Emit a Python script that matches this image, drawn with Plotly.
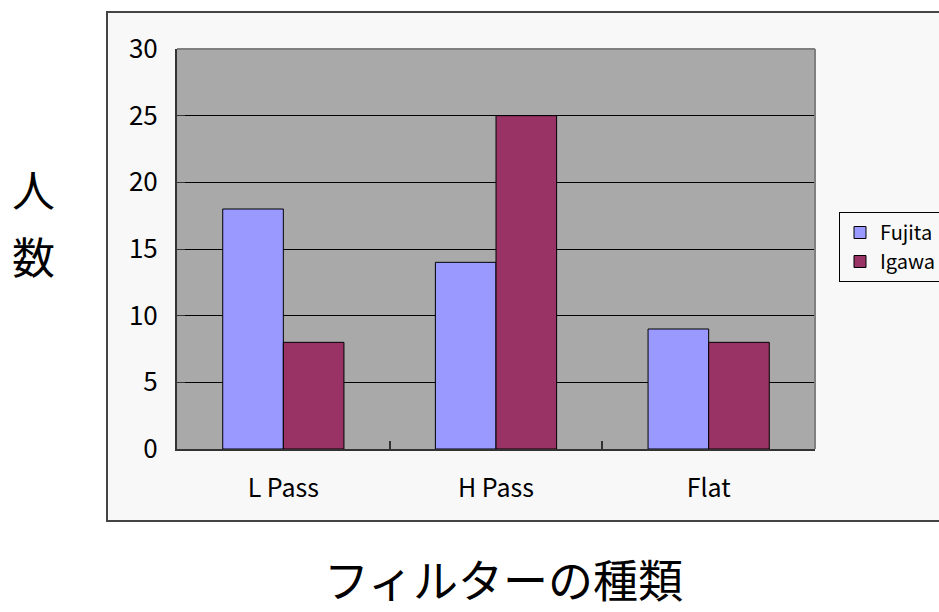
import plotly.graph_objects as go

categories = ["L Pass", "H Pass", "Flat"]
fujita = [18, 14, 9]
igawa = [8, 25, 8]
y_ticks = [0, 5, 10, 15, 20, 25, 30]

FONT = "Noto Sans CJK JP, Liberation Sans, sans-serif"

fig = go.Figure()
fig.add_trace(go.Bar(name="Fujita", x=categories, y=fujita,
                     marker=dict(color="#9999ff", line=dict(color="#000000", width=1))))
fig.add_trace(go.Bar(name="Igawa", x=categories, y=igawa,
                     marker=dict(color="#993366", line=dict(color="#000000", width=1))))

L, R, T, B = 177, 124, 49, 163
fig.update_layout(
    width=939, height=612,
    margin=dict(l=L, r=R, t=T, b=B, pad=0, autoexpand=False),
    paper_bgcolor="#ffffff",
    plot_bgcolor="#a9a9a9",
    barmode="group",
    bargap=0.43,
    bargroupgap=0,
    font=dict(family=FONT, color="#000000"),
    showlegend=True,
    legend=dict(x=(839 - L) / 638, y=(449 - 212) / 400, xanchor="left", yanchor="top",
                bgcolor="#f8f8f8", bordercolor="#000000", borderwidth=1,
                font=dict(size=20, family=FONT), tracegroupgap=0,
                itemwidth=30),
    xaxis=dict(showgrid=False, showline=True, linecolor="#333333", linewidth=2,
               ticks="inside", ticklen=8, tickcolor="#333333", tickwidth=2,
               tickson="boundaries", tickfont=dict(size=25, family=FONT),
               ticklabelstandoff=16,
               range=[-0.5, 2.5], zeroline=False),
    yaxis=dict(range=[0, 30], tickvals=y_ticks, showgrid=True, gridcolor="#000000",
               gridwidth=1, showline=True, linecolor="#333333", linewidth=2,
               ticks="inside", ticklen=8, tickcolor="#333333",
               ticklabelstandoff=12,
               tickfont=dict(size=26, family=FONT), zeroline=False),
    shapes=[
        dict(type="rect", xref="paper", yref="paper",
             x0=(107 - L) / 638, x1=(960 - L) / 638,
             y0=(449 - 521) / 400, y1=(449 - 12) / 400,
             fillcolor="#f8f8f8", line=dict(color="#444444", width=2), layer="below"),
        dict(type="rect", xref="paper", yref="paper", x0=0, x1=1, y0=0, y1=1,
             fillcolor="#a9a9a9", line=dict(width=0), layer="below"),
        dict(type="line", xref="paper", yref="paper", x0=0, x1=1, y0=1, y1=1,
             line=dict(color="#808080", width=2), layer="above"),
        dict(type="line", xref="paper", yref="paper", x0=1, x1=1, y0=0, y1=1,
             line=dict(color="#808080", width=2), layer="above"),
    ],
    annotations=[
        dict(text="人", xref="paper", yref="paper", x=(33 - L) / 638, y=(449 - 188) / 400,
             showarrow=False, font=dict(size=43, family=FONT), xanchor="center", yanchor="middle"),
        dict(text="数", xref="paper", yref="paper", x=(33 - L) / 638, y=(449 - 255) / 400,
             showarrow=False, font=dict(size=43, family=FONT), xanchor="center", yanchor="middle"),
        dict(text="フィルターの種類", xref="paper", yref="paper", x=(504 - L) / 638,
             y=(449 - 578) / 400, showarrow=False, font=dict(size=45, family=FONT),
             xanchor="center", yanchor="middle"),
    ],
)

fig.write_html("out.html")
